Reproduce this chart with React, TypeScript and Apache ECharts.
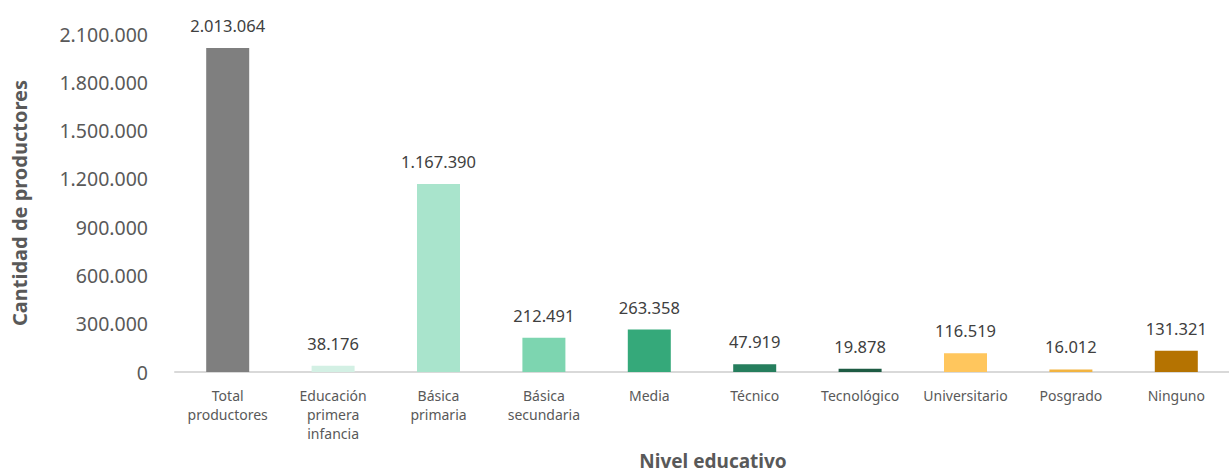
import React, { useEffect, useRef } from "react";
import * as echarts from "echarts";

const categories = [
  "Total\nproductores",
  "Educación\nprimera\ninfancia",
  "Básica\nprimaria",
  "Básica\nsecundaria",
  "Media",
  "Técnico",
  "Tecnológico",
  "Universitario",
  "Posgrado",
  "Ninguno",
];
const values = [2013064, 38176, 1167390, 212491, 263358, 47919, 19878, 116519, 16012, 131321];
const colors = [
  "#7f7f7f",
  "#d3f0e4",
  "#a9e4cc",
  "#7dd5b0",
  "#35a97a",
  "#267e5d",
  "#1d5b43",
  "#ffc65d",
  "#f2b441",
  "#b57301",
];
const yTicks = [0, 300000, 600000, 900000, 1200000, 1500000, 1800000, 2100000];

const fmt = (v: number) => String(Math.round(v)).replace(/\B(?=(\d{3})+(?!\d))/g, ".");

export default function App() {
  const ref = useRef<HTMLDivElement>(null);
  useEffect(() => {
    document.body.style.margin = "0";
    const chart = echarts.init(ref.current!, null, { renderer: "svg" });
    const font = "'Noto Sans', 'Open Sans', sans-serif";
    chart.setOption({
      animation: false,
      textStyle: { fontFamily: font },
      grid: { left: 175, right: 0, top: 34, bottom: 103, containLabel: false },
      xAxis: {
        type: "category",
        data: categories,
        axisLine: { lineStyle: { color: "#d9d9d9", width: 2 } },
        axisTick: { show: false },
        axisLabel: {
          color: "#595959",
          fontSize: 14,
          lineHeight: 19,
          margin: 14,
          interval: 0,
          fontFamily: font,
        },
      },
      yAxis: {
        type: "value",
        min: 0,
        max: yTicks[yTicks.length - 1],
        interval: yTicks[1] - yTicks[0],
        splitLine: { show: false },
        axisLine: { show: false },
        axisTick: { show: false },
        axisLabel: {
          color: "#595959",
          fontSize: 19.5,
          margin: 27,
          fontFamily: font,
          formatter: (v: number) => fmt(v),
        },
        name: "Cantidad de productores",
        nameLocation: "middle",
        nameGap: 146,
        nameRotate: 90,
        nameTextStyle: {
          color: "#595959",
          fontSize: 20,
          fontWeight: "bold",
          fontFamily: font,
        },
      },
      graphic: [
        {
          type: "text",
          x: 713,
          y: 461,
          style: {
            text: "Nivel educativo",
            fill: "#595959",
            fontSize: 19,
            fontWeight: "bold",
            fontFamily: font,
            align: "center",
            verticalAlign: "middle",
          },
        },
      ],
      series: [
        {
          type: "bar",
          barWidth: 43,
          data: values.map((v, i) => ({ value: v, itemStyle: { color: colors[i] } })),
          label: {
            show: true,
            position: "top",
            distance: 14,
            color: "#404040",
            fontSize: 16.5,
            fontFamily: font,
            formatter: (p: any) => fmt(p.value),
          },
        },
      ],
    });
    return () => chart.dispose();
  }, []);
  return <div ref={ref} style={{ width: 1229, height: 475 }} />;
}
